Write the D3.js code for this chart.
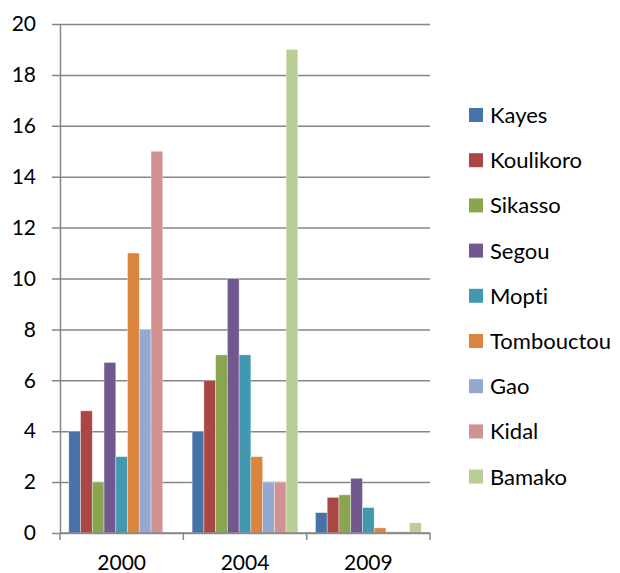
<!DOCTYPE html>
<html>
<head>
<meta charset="utf-8">
<script src="https://cdn.jsdelivr.net/npm/d3@7"></script>
<style>
  body { margin: 0; background: #fff; }
  svg { display: block; font-family: Lato, "Open Sans", sans-serif; font-variant-ligatures: none; }
</style>
</head>
<body>
<svg id="chart" width="620" height="573"></svg>
<script>
// data
var years = ["2000", "2004", "2009"];
var regions = ["Kayes", "Koulikoro", "Sikasso", "Segou", "Mopti", "Tombouctou", "Gao", "Kidal", "Bamako"];
var values2000 = [4, 4.8, 2, 6.7, 3, 11, 8, 15, 0];
var values2004 = [4, 6, 7, 10, 7, 3, 2, 2, 19];
var values2009 = [0.8, 1.4, 1.5, 2.15, 1, 0.2, 0.05, 0.05, 0.4];
var yTicks = [0, 2, 4, 6, 8, 10, 12, 14, 16, 18, 20];
var colors = ["#4572A7", "#AA4643", "#89A54E", "#71588F", "#4198AF", "#DB843D", "#93A9CF", "#D19392", "#B9CD96"];

var seriesByYear = [values2000, values2004, values2009];

// plot area (note: "top" is taken by window.top)
var plotLeft = 60, plotRight = 430, plotTop = 24, plotBottom = 533;
var svg = d3.select("#chart");
var axisColor = "#868686";

var y = d3.scaleLinear().domain([0, 20]).range([plotBottom, plotTop]);
var x0 = d3.scaleBand().domain(years).range([plotLeft, plotRight]);
var step = x0.bandwidth();
var gap = step * 0.75 / 10.5; // excel gap width 150%
var x1 = d3.scaleBand().domain(regions).range([gap, step - gap]);
var color = d3.scaleOrdinal().domain(regions).range(colors);

// y axis with gridlines
var yAxis = svg.append("g")
    .attr("transform", "translate(" + plotLeft + ",0)")
    .call(d3.axisLeft(y).tickValues(yTicks).tickSize(8).tickPadding(16).tickSizeOuter(0));
yAxis.select(".domain").attr("stroke", axisColor).attr("stroke-width", 1.5);
yAxis.selectAll(".tick line")
    .attr("x1", plotRight - plotLeft)
    .attr("stroke", axisColor)
    .attr("stroke-width", 1.5);
yAxis.selectAll(".tick text")
    .attr("fill", "#000")
    .attr("font-size", "21px")
    .attr("font-family", "Lato, sans-serif");

// bars
var groups = svg.selectAll("g.year")
    .data(years)
    .join("g")
    .attr("class", "year")
    .attr("transform", d => "translate(" + x0(d) + ",0)");

groups.selectAll("rect")
    .data((d, i) => regions.map((r, j) => ({region: r, value: seriesByYear[i][j]})))
    .join("rect")
    .attr("x", d => x1(d.region))
    .attr("width", x1.bandwidth())
    .attr("y", d => y(d.value))
    .attr("height", d => y(0) - y(d.value))
    .attr("fill", d => color(d.region))
    .attr("stroke", "rgba(255,255,255,0.45)")
    .attr("stroke-width", 0.8);

// x axis line and boundary ticks
svg.append("line")
    .attr("x1", plotLeft).attr("x2", plotRight)
    .attr("y1", y(0)).attr("y2", y(0))
    .attr("stroke", axisColor).attr("stroke-width", 1.5);

var bounds = years.map(d => x0(d)).concat([x0(years[years.length - 1]) + step]);
svg.selectAll("line.xtick")
    .data(bounds)
    .join("line")
    .attr("class", "xtick")
    .attr("x1", d => d).attr("x2", d => d)
    .attr("y1", y(0)).attr("y2", y(0) + 7)
    .attr("stroke", axisColor).attr("stroke-width", 1.5);

svg.selectAll("text.xlabel")
    .data(years)
    .join("text")
    .attr("class", "xlabel")
    .attr("x", d => x0(d) + step / 2)
    .attr("y", 570)
    .attr("text-anchor", "middle")
    .attr("font-size", "21px")
    .text(d => d);

// legend
var legend = svg.selectAll("g.legend")
    .data(regions)
    .join("g")
    .attr("class", "legend")
    .attr("transform", (d, i) => "translate(469," + (115 + i * 45.2) + ")");

legend.append("rect")
    .attr("x", 0).attr("y", -7)
    .attr("width", 14).attr("height", 14)
    .attr("fill", d => color(d));

legend.append("text")
    .attr("x", 21)
    .attr("y", 0)
    .attr("dy", "0.36em")
    .attr("font-size", "22px")
    .text(d => d);
</script>
</body>
</html>
